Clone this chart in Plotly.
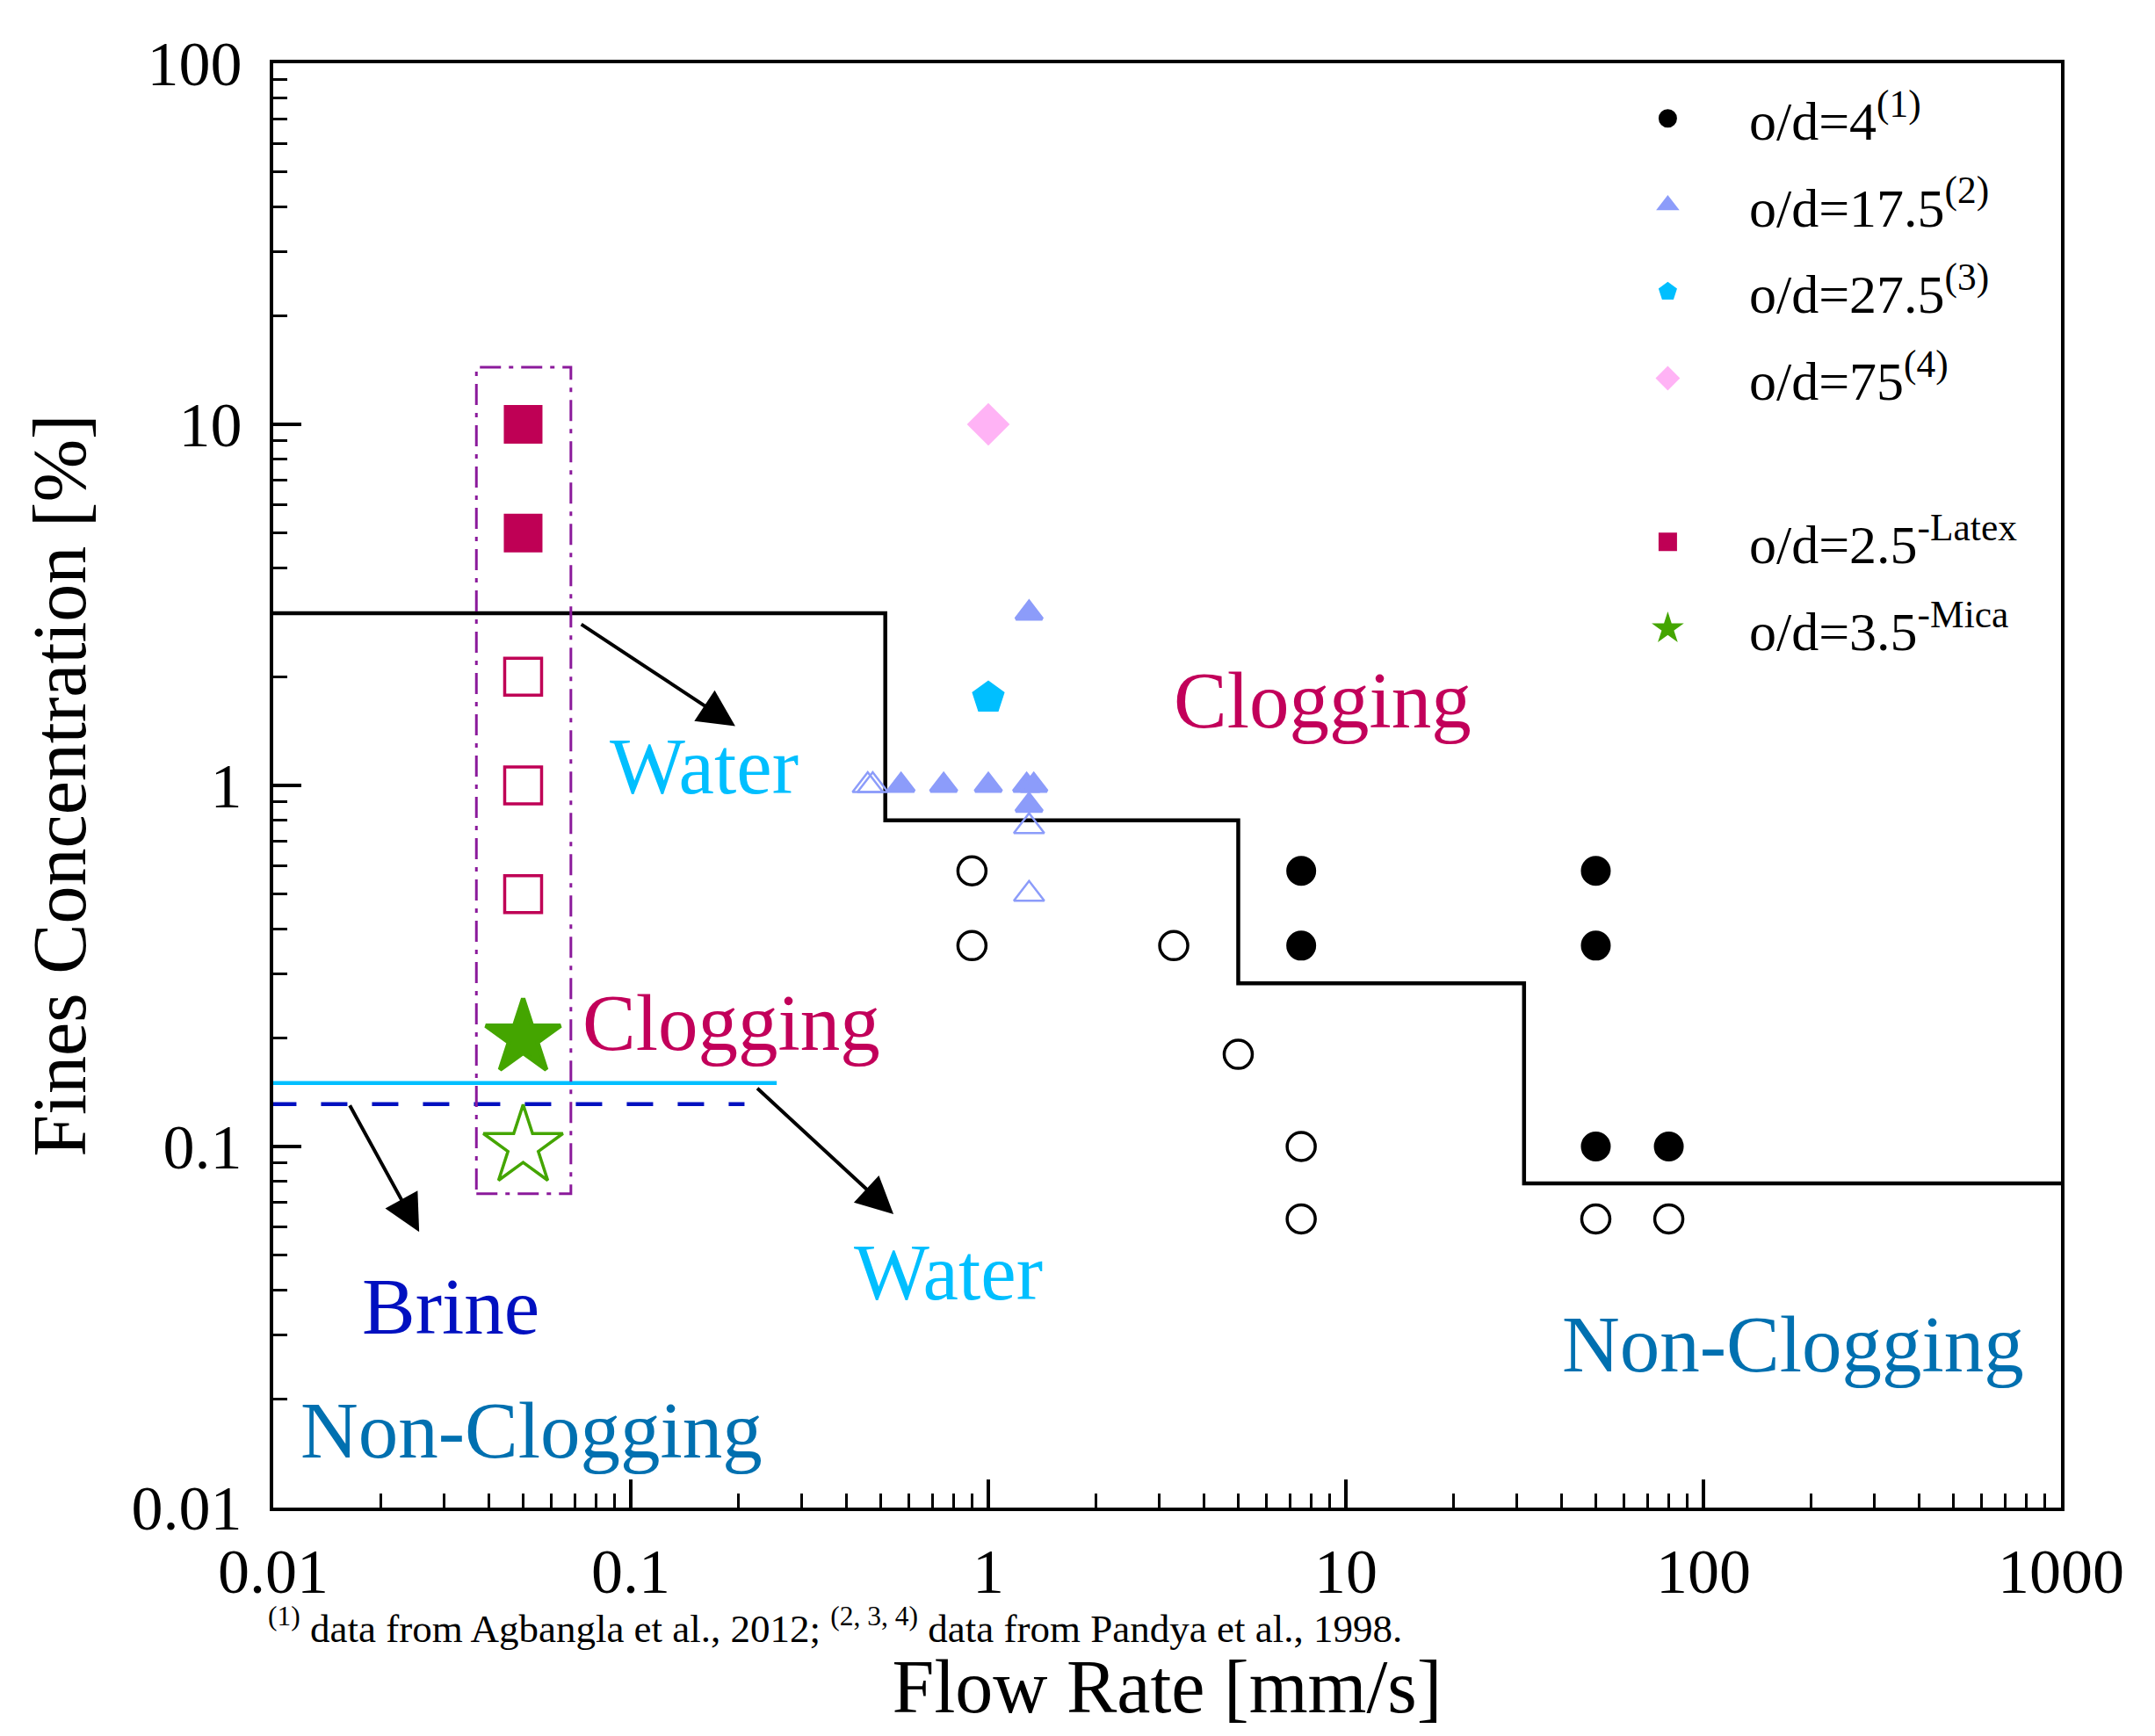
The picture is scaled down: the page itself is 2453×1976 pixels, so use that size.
import numpy as np
import plotly.graph_objects as go

# ---------------- data ----------------
# o/d = 4 (Agbangla et al., 2012)
od4_fill_x = [7.5, 7.5, 50, 50, 50, 80]
od4_fill_y = [0.58, 0.36, 0.58, 0.36, 0.1, 0.1]
od4_open_x = [0.9, 0.9, 3.3, 5.0, 7.5, 7.5, 50, 80]
od4_open_y = [0.58, 0.36, 0.36, 0.18, 0.1, 0.063, 0.063, 0.063]
# o/d = 17.5 (Pandya et al., 1998)
od17_fill_x = [0.57, 0.75, 1.0, 1.28, 1.34, 1.3, 1.3]
od17_fill_y = [1, 1, 1, 1, 1, 0.88, 3.0]
od17_open_x = [0.46, 0.475, 1.3, 1.3]
od17_open_y = [1, 1, 0.77, 0.5]
# o/d = 27.5
od27_x = [1.0]
od27_y = [1.75]
# o/d = 75
od75_x = [1.0]
od75_y = [10]
# o/d = 2.5 Latex
latex_fill_x = [0.05, 0.05]
latex_fill_y = [10, 5]
latex_open_x = [0.05, 0.05, 0.05]
latex_open_y = [2, 1, 0.5]
# o/d = 3.5 Mica
mica_fill_x = [0.05]
mica_fill_y = [0.2]
mica_open_x = [0.05]
mica_open_y = [0.1]
# boundaries
step_x = [0.01, 0.515, 5.0, 31.5, 1000]
step_y = [3.0, 0.80, 0.283, 0.079, 0.079]
water_x = [0.01, 0.256]
water_y = [0.15, 0.15]
brine_x = [0.0098, 0.208]
brine_y = [0.131, 0.131]
box_x = [0.037, 0.068]
box_y = [0.074, 14.4]

x_tickvals = [0.01, 0.1, 1, 10, 100, 1000]
x_ticktext = ["0.01", "0.1", "1", "10", "100", "1000"]
y_tickvals = [0.01, 0.1, 1, 10, 100]
y_ticktext = ["0.01", "0.1", "1", "10", "100"]

FONT = "Liberation Serif"
C_TRI = "#8C9CFA"
C_PENT = "#00BFFF"
C_DIAM = "#FFB3F5"
C_LATEX = "#BF0055"
C_MICA = "#44A500"
C_WATER = "#00BFFF"
C_BRINE = "#0010C0"
C_CLOG = "#C2005A"
C_NONCLOG = "#0070B0"
C_BOX = "#8B1A9B"

fig = go.Figure()

# boundary lines
fig.add_trace(go.Scatter(x=step_x, y=step_y, mode="lines", line=dict(color="black", width=4.5, shape="hv"),
                         showlegend=False, hoverinfo="skip"))
fig.add_trace(go.Scatter(x=water_x, y=water_y, mode="lines", line=dict(color=C_WATER, width=4.5),
                         showlegend=False, hoverinfo="skip"))
fig.add_trace(go.Scatter(x=brine_x, y=brine_y, mode="lines", line=dict(color=C_BRINE, width=4.5, dash="30px,28px"),
                         showlegend=False, hoverinfo="skip"))
# dash-dot box
bx = [box_x[0], box_x[1], box_x[1], box_x[0], box_x[0]]
by = [box_y[0], box_y[0], box_y[1], box_y[1], box_y[0]]
fig.add_trace(go.Scatter(x=bx, y=by, mode="lines", line=dict(color=C_BOX, width=3, dash="24px,9px,5px,9px"),
                         showlegend=False, hoverinfo="skip"))

# open markers (no legend)
fig.add_trace(go.Scatter(x=od4_open_x, y=od4_open_y, mode="markers",
                         marker=dict(symbol="circle-open", size=32, color="black", line=dict(width=3.5)),
                         showlegend=False))
fig.add_trace(go.Scatter(x=od17_open_x, y=od17_open_y, mode="markers",
                         marker=dict(symbol="triangle-up-open", size=30, color=C_TRI, line=dict(width=2.5)),
                         showlegend=False))
fig.add_trace(go.Scatter(x=latex_open_x, y=latex_open_y, mode="markers",
                         marker=dict(symbol="square-open", size=42, color=C_LATEX, line=dict(width=3.5)),
                         showlegend=False))
fig.add_trace(go.Scatter(x=mica_open_x, y=mica_open_y, mode="markers",
                         marker=dict(symbol="star-open", size=68, color=C_MICA, line=dict(width=3.5)),
                         showlegend=False))

# filled markers (legend)
fig.add_trace(go.Scatter(x=od4_fill_x, y=od4_fill_y, mode="markers", name="o/d=4<sup>(1)</sup>",
                         legendgroup="g1", legend="legend",
                         marker=dict(symbol="circle", size=29, color="black", line=dict(width=5, color="black"))))
fig.add_trace(go.Scatter(x=od17_fill_x, y=od17_fill_y, mode="markers", name="o/d=17.5<sup>(2)</sup>",
                         legendgroup="g2", legend="legend",
                         marker=dict(symbol="triangle-up", size=26, color=C_TRI, line=dict(width=4, color=C_TRI))))
fig.add_trace(go.Scatter(x=od27_x, y=od27_y, mode="markers", name="o/d=27.5<sup>(3)</sup>",
                         legendgroup="g3", legend="legend",
                         marker=dict(symbol="pentagon", size=33, color=C_PENT, line=dict(width=5, color=C_PENT))))
fig.add_trace(go.Scatter(x=od75_x, y=od75_y, mode="markers", name="o/d=75<sup>(4)</sup>",
                         legendgroup="g4", legend="legend",
                         marker=dict(symbol="diamond", size=32, color=C_DIAM, line=dict(width=5, color=C_DIAM))))
fig.add_trace(go.Scatter(x=latex_fill_x, y=latex_fill_y, mode="markers", name="o/d=2.5<sup>-Latex</sup>",
                         legendgroup="g5", legend="legend2",
                         marker=dict(symbol="square", size=39, color=C_LATEX, line=dict(width=5, color=C_LATEX))))
fig.add_trace(go.Scatter(x=mica_fill_x, y=mica_fill_y, mode="markers", name="o/d=3.5<sup>-Mica</sup>",
                         legendgroup="g6", legend="legend2",
                         marker=dict(symbol="star", size=64, color=C_MICA, line=dict(width=5, color=C_MICA))))

L = np.log10
annots = []
# text labels: (text, x, y, color)
labels = [
    ("Water", 0.16, 1.13, C_WATER),
    ("Clogging", 8.6, 1.72, C_CLOG),
    ("Clogging", 0.191, 0.22, C_CLOG),
    ("Water", 0.773, 0.0447, C_WATER),
    ("Brine", 0.0313, 0.0359, C_BRINE),
    ("Non-Clogging", 0.0528, 0.0163, C_NONCLOG),
    ("Non-Clogging", 178, 0.0283, C_NONCLOG),
]
for t, x, y, c in labels:
    annots.append(dict(text=t, x=L(x), y=L(y), xref="x", yref="y", showarrow=False,
                       font=dict(family=FONT, size=91, color=c), xanchor="center", yanchor="middle"))
# arrows: (head x, head y, tail x, tail y)
arrows = [
    (0.196, 1.46, 0.0721, 2.81),
    (0.543, 0.065, 0.224, 0.146),
    (0.0256, 0.058, 0.0163, 0.131),
]
for hx, hy, tx, ty in arrows:
    annots.append(dict(text="", x=L(hx), y=L(hy), ax=L(tx), ay=L(ty), xref="x", yref="y",
                       axref="x", ayref="y", showarrow=True, arrowhead=2, arrowsize=2.1,
                       arrowwidth=4, arrowcolor="black"))
# footnote
annots.append(dict(text="<sup>(1)</sup> data from Agbangla et al., 2012; <sup>(2, 3, 4)</sup> data from Pandya et al., 1998.",
                   x=0, y=-0.082, xref="paper", yref="paper", xanchor="left", yanchor="middle", xshift=-8,
                   showarrow=False, font=dict(family=FONT, size=45, color="black")))

axis_common = dict(
    type="log", showgrid=False, zeroline=False, showline=True, linewidth=4, linecolor="black",
    mirror=True, ticks="inside", ticklen=32, tickwidth=4, tickcolor="black",
    tickfont=dict(family=FONT, size=72, color="black"),
    minor=dict(ticks="inside", ticklen=16, tickwidth=3, tickcolor="black", dtick="D1", showgrid=False),
)

legend_common = dict(xanchor="left", yanchor="middle", bgcolor="rgba(0,0,0,0)",
                     font=dict(family=FONT, size=62, color="black"), tracegroupgap=15,
                     traceorder="grouped", itemwidth=175)

fig.update_layout(
    width=2437, height=1960,
    margin=dict(l=303, r=99, t=64, b=252),
    paper_bgcolor="white", plot_bgcolor="white",
    font=dict(family=FONT, color="black"),
    xaxis=dict(axis_common, range=[-2, 3], tickvals=x_tickvals, ticktext=x_ticktext,
               ticklabelstandoff=7,
               title=dict(text="Flow Rate [mm/s]", font=dict(family=FONT, size=86), standoff=63)),
    yaxis=dict(axis_common, range=[-2, 2], tickvals=y_tickvals, ticktext=y_ticktext,
               ticklabelstandoff=17,
               title=dict(text="Fines Concentration [%]", font=dict(family=FONT, size=86), standoff=24)),
    legend=dict(legend_common, x=0.7346, y=0.8717),
    legend2=dict(legend_common, x=0.7346, y=0.6384),
    annotations=annots,
)

fig.write_html("out.html")
